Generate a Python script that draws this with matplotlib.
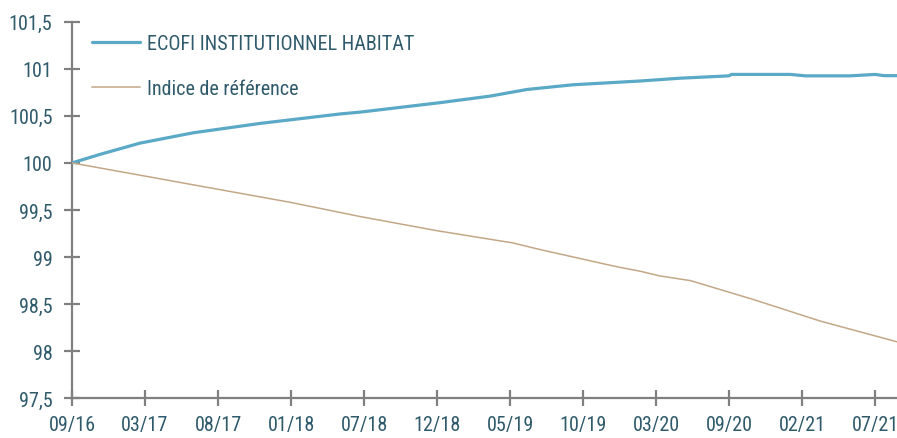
import matplotlib
matplotlib.use("Agg")
import matplotlib.pyplot as plt
from matplotlib import font_manager

# narrow font if one is installed, otherwise Roboto
names = {f.name for f in font_manager.fontManager.ttflist}
family = "Roboto"
for cand in ["Roboto Condensed", "Liberation Sans Narrow", "Open Sans Condensed"]:
    if cand in names:
        family = cand
        break
plt.rcParams["font.family"] = [family, "DejaVu Sans"]

tick_labels = ["09/16", "03/17", "08/17", "01/18", "07/18", "12/18",
               "05/19", "10/19", "03/20", "09/20", "02/21", "07/21"]

# x in tick units (0 = 09/16, 1 = 03/17, ...)
fund_x = [0, 0.38, 0.93, 1.66, 2.58, 3.67, 3.95, 5.04, 5.73, 6.23, 6.86, 7.78,
          8.33, 8.6, 9.0, 9.03, 9.84, 10.04, 10.66, 11.0, 11.12, 11.3]
fund_y = [100.0, 100.09, 100.21, 100.32, 100.42, 100.52, 100.54, 100.64, 100.71,
          100.78, 100.83, 100.87, 100.9, 100.91, 100.925, 100.94, 100.94, 100.925,
          100.925, 100.94, 100.927, 100.927]

ref_x = [0, 1.0, 2.0, 3.0, 3.95, 5.0, 6.04, 6.41, 7.33, 7.51, 7.78, 8.05, 8.47,
         9.33, 10.25, 11.3]
ref_y = [100.0, 99.86, 99.72, 99.58, 99.43, 99.28, 99.15, 99.08, 98.92, 98.89,
         98.85, 98.80, 98.75, 98.55, 98.32, 98.10]

text_color = "#2f5a6b"
axis_color = "#808080"

fig = plt.figure(figsize=(8.97, 4.39), dpi=100)
ax = fig.add_axes([72 / 897, 1 - 399.3 / 439, 1 - 72 / 897, (399.3 - 22.7) / 439])

ax.plot(fund_x, fund_y, color="#5aa9c7", lw=2.3, label="ECOFI INSTITUTIONNEL HABITAT",
        solid_capstyle="round", solid_joinstyle="round")
ax.plot(ref_x, ref_y, color="#c3a888", lw=1.1, label="Indice de référence")

ax.set_xlim(0, 11.3)
ax.set_ylim(97.5, 101.5)
ax.set_xticks(range(len(tick_labels)))
ax.set_xticklabels(tick_labels)
yt = [97.5 + 0.5 * i for i in range(9)]
ax.set_yticks(yt)
ax.set_yticklabels([("%g" % v).replace(".", ",") for v in yt])

for s in ["top", "right"]:
    ax.spines[s].set_visible(False)
for s in ["left", "bottom"]:
    ax.spines[s].set_color(axis_color)
    ax.spines[s].set_linewidth(1.6)
    ax.spines[s].set_zorder(0)
ax.tick_params(direction="inout", length=12, width=1.6, color=axis_color,
               labelcolor=text_color, labelsize=14.5)
ax.tick_params(axis="y", pad=8)
ax.tick_params(axis="x", pad=6)

leg = ax.legend(loc="upper left", bbox_to_anchor=(0.0, 1.02), frameon=False,
                fontsize=14.5, handlelength=2.4, handletextpad=0.3, labelspacing=1.3,
                borderaxespad=0.6)
for t in leg.get_texts():
    t.set_color(text_color)

fig.savefig("out.png", dpi=100)
